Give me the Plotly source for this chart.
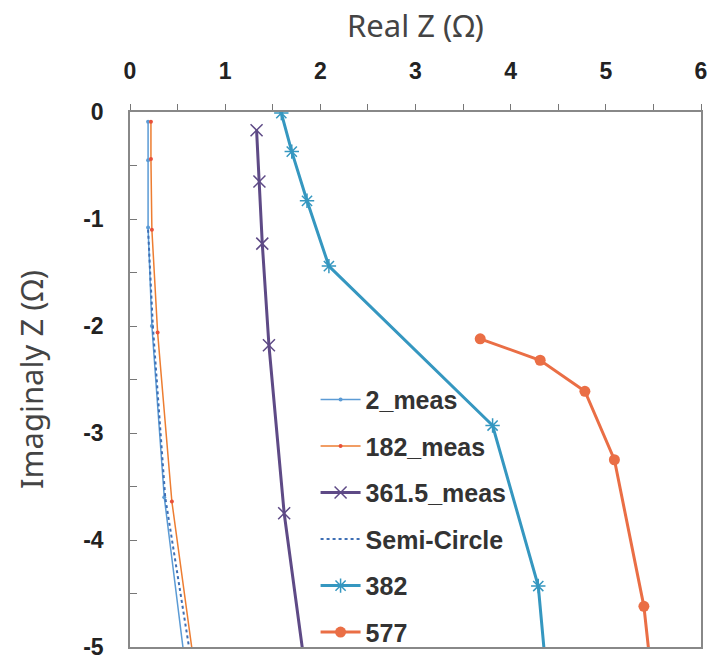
import plotly.graph_objects as go

# ---- data ----
x_2meas = [0.19, 0.19, 0.19, 0.23, 0.36, 0.64]
y_2meas = [-0.09, -0.45, -1.08, -2.00, -3.60, -5.60]

x_182meas = [0.22, 0.22, 0.23, 0.29, 0.44, 0.74]
y_182meas = [-0.09, -0.44, -1.10, -2.06, -3.64, -5.60]

x_3615meas = [1.33, 1.36, 1.39, 1.46, 1.62, 1.90]
y_3615meas = [-0.17, -0.65, -1.23, -2.18, -3.75, -5.60]

x_semi = [0.19, 0.24, 0.37, 0.62]
y_semi = [-1.10, -2.00, -3.60, -5.00]

x_382 = [1.59, 1.70, 1.86, 2.09, 3.81, 4.29, 4.40]
y_382 = [-0.01, -0.37, -0.83, -1.44, -2.93, -4.43, -5.50]

x_577 = [3.68, 4.31, 4.78, 5.09, 5.40, 5.52]
y_577 = [-2.12, -2.32, -2.61, -3.25, -4.62, -5.60]

x_ticks = [0, 1, 2, 3, 4, 5, 6]
y_ticks = [0, -1, -2, -3, -4, -5]

fig = go.Figure()

fig.add_trace(go.Scatter(x=x_2meas, y=y_2meas, name="2_meas", mode="lines+markers",
                         line=dict(color="#5B9BD5", width=1.5),
                         marker=dict(symbol="circle", size=4, color="#5B9BD5"),
                         legendgroup="a"))
fig.add_trace(go.Scatter(x=x_182meas, y=y_182meas, name="182_meas", mode="lines+markers",
                         line=dict(color="#ED7D31", width=1.5),
                         marker=dict(symbol="circle", size=4, color="#E8503A"),
                         legendgroup="b"))
fig.add_trace(go.Scatter(x=x_3615meas, y=y_3615meas, name="361.5_meas", mode="lines+markers",
                         line=dict(color="#5E4A86", width=3),
                         marker=dict(symbol="x-thin", size=12, color="#5E4A86",
                                     line=dict(color="#5E4A86", width=1.5)),
                         legendgroup="c"))
fig.add_trace(go.Scatter(x=x_semi, y=y_semi, name="Semi-Circle", mode="lines",
                         line=dict(color="#3E6FB5", width=2, dash="dot"),
                         legendgroup="d"))
fig.add_trace(go.Scatter(x=x_382, y=y_382, name="382", mode="lines+markers",
                         line=dict(color="#3597C0", width=3),
                         marker=dict(symbol="asterisk", size=12, color="#3597C0",
                                     line=dict(color="#3597C0", width=1.5)),
                         legendgroup="e"))
fig.add_trace(go.Scatter(x=x_577, y=y_577, name="577", mode="lines+markers",
                         line=dict(color="#EA6E45", width=3),
                         marker=dict(symbol="circle", size=11, color="#EA6E45"),
                         legendgroup="f"))

tickfont = dict(family="Liberation Sans", size=23, color="#222222", weight="bold")
titlefont = dict(family="Noto Sans", size=31, color="#444444")

fig.update_layout(
    width=715, height=668,
    margin=dict(l=130, r=8, t=112, b=13),
    paper_bgcolor="white", plot_bgcolor="white",
    showlegend=True,
    legend=dict(x=0.325, y=0.505, xanchor="left", yanchor="top",
                bgcolor="rgba(0,0,0,0)", tracegroupgap=11,
                font=dict(family="Liberation Sans", size=25, color="#333333", weight="bold"),
                itemwidth=40),
    xaxis=dict(range=[0, 6], side="top", tickvals=x_ticks, ticktext=[str(v) for v in x_ticks],
               ticks="outside", ticklen=6, tickwidth=1.2, tickcolor="#777777",
               minor=dict(dtick=0.5, ticks="outside", ticklen=6, tickwidth=1.2, tickcolor="#777777"),
               showline=True, linecolor="#888888", linewidth=1.5, mirror=True,
               showgrid=False, zeroline=False, tickfont=tickfont, ticklabelstandoff=16,
               ticklabeloverflow="allow",
               title=dict(text="Real Z (Ω)", font=titlefont, standoff=11)),
    xaxis2=dict(range=[0, 6], side="top", overlaying="x", anchor="y",
                tickvals=x_ticks, showticklabels=False,
                ticks="inside", ticklen=6, tickwidth=1.2, tickcolor="#777777",
                minor=dict(dtick=0.5, ticks="inside", ticklen=6, tickwidth=1.2, tickcolor="#777777"),
                showgrid=False, zeroline=False, showline=False),
    yaxis=dict(range=[-5, 0], tickvals=y_ticks, ticktext=[str(v) for v in y_ticks],
               ticks="inside", ticklen=7, tickwidth=1.2, tickcolor="#777777",
               minor=dict(dtick=0.5, ticks="inside", ticklen=7, tickwidth=1.2, tickcolor="#777777"),
               showline=True, linecolor="#888888", linewidth=1.5, mirror=True,
               showgrid=False, zeroline=False, tickfont=tickfont, ticklabelstandoff=20,
               ticklabeloverflow="allow",
               title=dict(text="Imaginaly Z (Ω)", font=titlefont, standoff=30)),
)

fig.write_html("out.html")
